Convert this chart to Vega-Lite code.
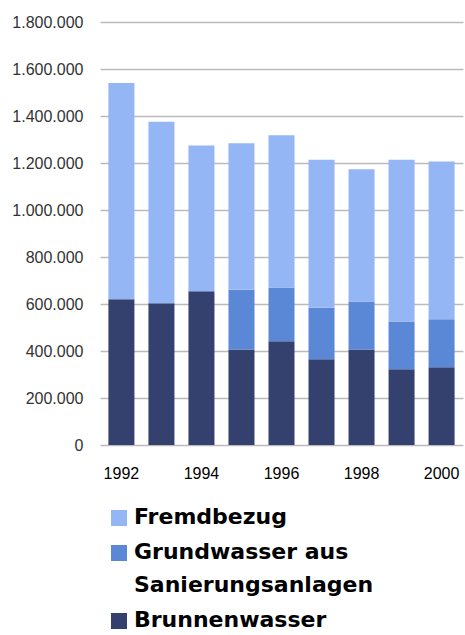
{
  "$schema": "https://vega.github.io/schema/vega-lite/v6.json",
  "width": 363,
  "height": 423,
  "autosize": {"type": "none"},
  "padding": {"left": 100, "top": 22, "right": 2, "bottom": 190},
  "background": "white",
  "data": {
    "values": [
      {"year": 1992, "type": "Brunnenwasser", "ord": 1, "value": 620000},
      {"year": 1992, "type": "Grundwasser aus Sanierungsanlagen", "ord": 2, "value": 0},
      {"year": 1992, "type": "Fremdbezug", "ord": 3, "value": 920000},
      {"year": 1993, "type": "Brunnenwasser", "ord": 1, "value": 603000},
      {"year": 1993, "type": "Grundwasser aus Sanierungsanlagen", "ord": 2, "value": 0},
      {"year": 1993, "type": "Fremdbezug", "ord": 3, "value": 773000},
      {"year": 1994, "type": "Brunnenwasser", "ord": 1, "value": 654000},
      {"year": 1994, "type": "Grundwasser aus Sanierungsanlagen", "ord": 2, "value": 0},
      {"year": 1994, "type": "Fremdbezug", "ord": 3, "value": 620000},
      {"year": 1995, "type": "Brunnenwasser", "ord": 1, "value": 406000},
      {"year": 1995, "type": "Grundwasser aus Sanierungsanlagen", "ord": 2, "value": 255000},
      {"year": 1995, "type": "Fremdbezug", "ord": 3, "value": 623000},
      {"year": 1996, "type": "Brunnenwasser", "ord": 1, "value": 441000},
      {"year": 1996, "type": "Grundwasser aus Sanierungsanlagen", "ord": 2, "value": 229000},
      {"year": 1996, "type": "Fremdbezug", "ord": 3, "value": 648000},
      {"year": 1997, "type": "Brunnenwasser", "ord": 1, "value": 365000},
      {"year": 1997, "type": "Grundwasser aus Sanierungsanlagen", "ord": 2, "value": 219000},
      {"year": 1997, "type": "Fremdbezug", "ord": 3, "value": 630000},
      {"year": 1998, "type": "Brunnenwasser", "ord": 1, "value": 406000},
      {"year": 1998, "type": "Grundwasser aus Sanierungsanlagen", "ord": 2, "value": 205000},
      {"year": 1998, "type": "Fremdbezug", "ord": 3, "value": 562000},
      {"year": 1999, "type": "Brunnenwasser", "ord": 1, "value": 322000},
      {"year": 1999, "type": "Grundwasser aus Sanierungsanlagen", "ord": 2, "value": 204000},
      {"year": 1999, "type": "Fremdbezug", "ord": 3, "value": 688000},
      {"year": 2000, "type": "Brunnenwasser", "ord": 1, "value": 331000},
      {"year": 2000, "type": "Grundwasser aus Sanierungsanlagen", "ord": 2, "value": 204000},
      {"year": 2000, "type": "Fremdbezug", "ord": 3, "value": 671000}
    ]
  },
  "mark": {"type": "bar"},
  "encoding": {
    "x": {
      "field": "year",
      "type": "ordinal",
      "scale": {"paddingInner": 0.35, "paddingOuter": 0.21},
      "axis": {
        "title": null,
        "labelAngle": 0,
        "ticks": false,
        "domain": false,
        "labelPadding": 14,
        "labelFont": "Liberation Sans",
        "labelFontSize": 16,
        "labelColor": "#000000",
        "labelExpr": "datum.value % 2 === 0 ? datum.label : ''"
      }
    },
    "y": {
      "field": "value",
      "type": "quantitative",
      "stack": "zero",
      "scale": {"domain": [0, 1800000], "nice": false},
      "axis": {
        "title": null,
        "values": [0, 200000, 400000, 600000, 800000, 1000000, 1200000, 1400000, 1600000, 1800000],
        "ticks": false,
        "domain": false,
        "labelPadding": 17,
        "labelOffset": -6,
        "labelFont": "Liberation Sans",
        "labelFontSize": 16,
        "labelColor": "#333333",
        "gridColor": "#bbbbbb",
        "gridWidth": 1.5,
        "gridOpacity": 1,
        "labelExpr": "replace(replace(format(datum.value, ','), ',', '.'), ',', '.')"
      }
    },
    "color": {
      "field": "type",
      "type": "nominal",
      "scale": {
        "domain": ["Fremdbezug", "Grundwasser aus Sanierungsanlagen", "Brunnenwasser"],
        "range": ["#94b6f5", "#5a88d6", "#34416f"]
      },
      "legend": {
        "title": null,
        "orient": "none",
        "legendX": 8,
        "legendY": 485,
        "padding": 0,
        "symbolType": "square",
        "symbolSize": 256,
        "symbolStrokeWidth": 0,
        "labelFont": "DejaVu Sans",
        "labelFontSize": 22,
        "labelFontWeight": "bold",
        "labelColor": "#000000",
        "labelBaseline": "alphabetic",
        "labelOffset": 4,
        "labelLimit": 400,
        "rowPadding": 13,
        "labelExpr": "datum.label === 'Grundwasser aus Sanierungsanlagen' ? ['Grundwasser aus', 'Sanierungsanlagen'] : datum.label"
      }
    },
    "order": {"field": "ord", "type": "quantitative"}
  },
  "config": {
    "view": {"stroke": null},
    "style": {"guide-label": {"lineHeight": 33, "dy": 6}}
  }
}
